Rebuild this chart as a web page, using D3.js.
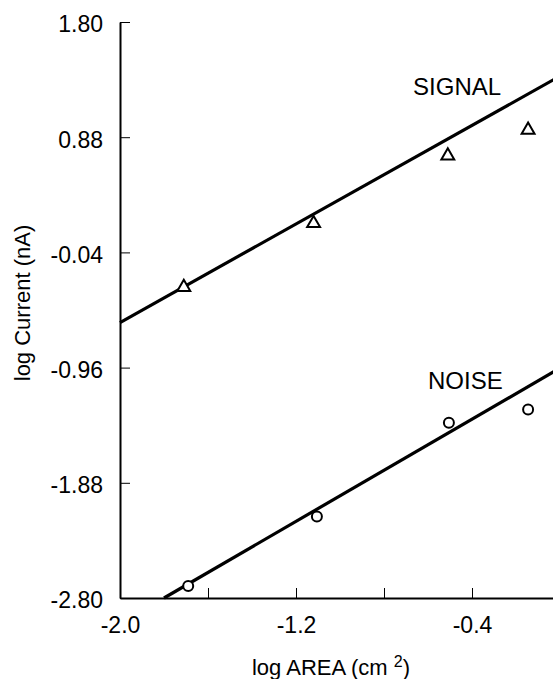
<!DOCTYPE html>
<html>
<head>
<meta charset="utf-8">
<script src="https://cdn.jsdelivr.net/npm/d3@7"></script>
<style>
  body { margin: 0; background: #fff; }
  svg text { font-family: "Liberation Sans", Arial, sans-serif; fill: #000; }
</style>
</head>
<body>
<div id="chart"></div>
<script>
// data
const signalX = [-1.71, -1.12, -0.51, -0.145];
const signalY = [-0.31, 0.20, 0.74, 0.945];
const noiseX = [-1.69, -1.105, -0.505, -0.145];
const noiseY = [-2.705, -2.15, -1.40, -1.295];

// fitted lines (end points)
const signalFitX = [-2.0, 0.0];
const signalFitY = [-0.60, 1.368];
const noiseFitX = [-1.80, 0.0];
const noiseFitY = [-2.80, -0.964];

const xTicks = [-2.0, -1.6, -1.2, -0.8, -0.4, 0.0];
const xTickLabels = ["-2.0", "", "-1.2", "", "-0.4", ""];
const yTicks = [1.80, 0.88, -0.04, -0.96, -1.88, -2.80];
const yTickLabels = ["1.80", "0.88", "-0.04", "-0.96", "-1.88", "-2.80"];

const seriesLabels = [
  { text: "SIGNAL", x: -0.668, y: 1.216 },
  { text: "NOISE", x: -0.60, y: -1.128 }
];

const svgWidth = 553;
const svgHeight = 679;

const margin = { top: 22, left: 120, bottom: 81 };

const svg = d3.select("#chart")
  .append("svg")
  .attr("width", svgWidth)
  .attr("height", svgHeight);

const xScale = d3.scaleLinear()
  .domain([-2.0, 0.0])
  .range([margin.left, margin.left + 440]);

const yScale = d3.scaleLinear()
  .domain([-2.80, 1.80])
  .range([svgHeight - margin.bottom, margin.top]);

// axes, ticks pointing inward
const bottomAxis = d3.axisBottom(xScale)
  .tickValues(xTicks)
  .tickFormat((d, i) => xTickLabels[i])
  .tickSizeInner(-10)
  .tickSizeOuter(0)
  .tickPadding(19);

const leftAxis = d3.axisLeft(yScale)
  .tickValues(yTicks)
  .tickFormat((d, i) => yTickLabels[i])
  .tickSizeInner(-10)
  .tickSizeOuter(0)
  .tickPadding(17);

const xAxis = svg.append("g")
  .attr("transform", `translate(0, ${yScale(-2.80)})`)
  .call(bottomAxis);

const yAxis = svg.append("g")
  .attr("transform", `translate(${xScale(-2.0)}, 0)`)
  .call(leftAxis);

[xAxis, yAxis].forEach(a => {
  a.select(".domain").attr("stroke", "#000").attr("stroke-width", 2);
  a.selectAll(".tick line").attr("stroke", "#000").attr("stroke-width", 1);
  a.selectAll(".tick text")
    .style("font-size", "23px")
    .style("font-family", "'Liberation Sans', Arial, sans-serif");
});
yAxis.selectAll(".tick text").attr("dy", "0.43em");
xAxis.selectAll(".tick text").attr("dy", "0.68em");

// fitted lines
const line = d3.line()
  .x(d => xScale(d[0]))
  .y(d => yScale(d[1]));

svg.append("path")
  .datum(d3.zip(signalFitX, signalFitY))
  .attr("d", line)
  .attr("fill", "none")
  .attr("stroke", "#000")
  .attr("stroke-width", 3.2);

svg.append("path")
  .datum(d3.zip(noiseFitX, noiseFitY))
  .attr("d", line)
  .attr("fill", "none")
  .attr("stroke", "#000")
  .attr("stroke-width", 3.2);

// signal triangles
const tri = d3.symbol().type(d3.symbolTriangle).size(72);
svg.selectAll("path.sig")
  .data(d3.zip(signalX, signalY))
  .enter()
  .append("path")
  .attr("class", "sig")
  .attr("d", tri)
  .attr("transform", d => `translate(${xScale(d[0])}, ${yScale(d[1]) + 1})`)
  .attr("fill", "#fff")
  .attr("stroke", "#000")
  .attr("stroke-width", 2);

// noise circles
svg.selectAll("circle.noise")
  .data(d3.zip(noiseX, noiseY))
  .enter()
  .append("circle")
  .attr("class", "noise")
  .attr("cx", d => xScale(d[0]))
  .attr("cy", d => yScale(d[1]))
  .attr("r", 5)
  .attr("fill", "#fff")
  .attr("stroke", "#000")
  .attr("stroke-width", 2);

// series labels
svg.selectAll("text.series")
  .data(seriesLabels)
  .enter()
  .append("text")
  .attr("class", "series")
  .attr("x", d => xScale(d.x))
  .attr("y", d => yScale(d.y))
  .style("font-size", "24px")
  .text(d => d.text);

// axis titles
const xTitle = svg.append("text")
  .attr("x", 331)
  .attr("y", 675)
  .attr("text-anchor", "middle")
  .style("font-size", "22px");
xTitle.append("tspan").text("log AREA (cm ");
xTitle.append("tspan").attr("dy", -8).style("font-size", "16px").text("2");
xTitle.append("tspan").attr("dy", 8).text(")");

svg.append("text")
  .attr("transform", "rotate(-90)")
  .attr("x", -303)
  .attr("y", 30)
  .attr("text-anchor", "middle")
  .style("font-size", "22px")
  .text("log Current (nA)");
</script>
</body>
</html>
